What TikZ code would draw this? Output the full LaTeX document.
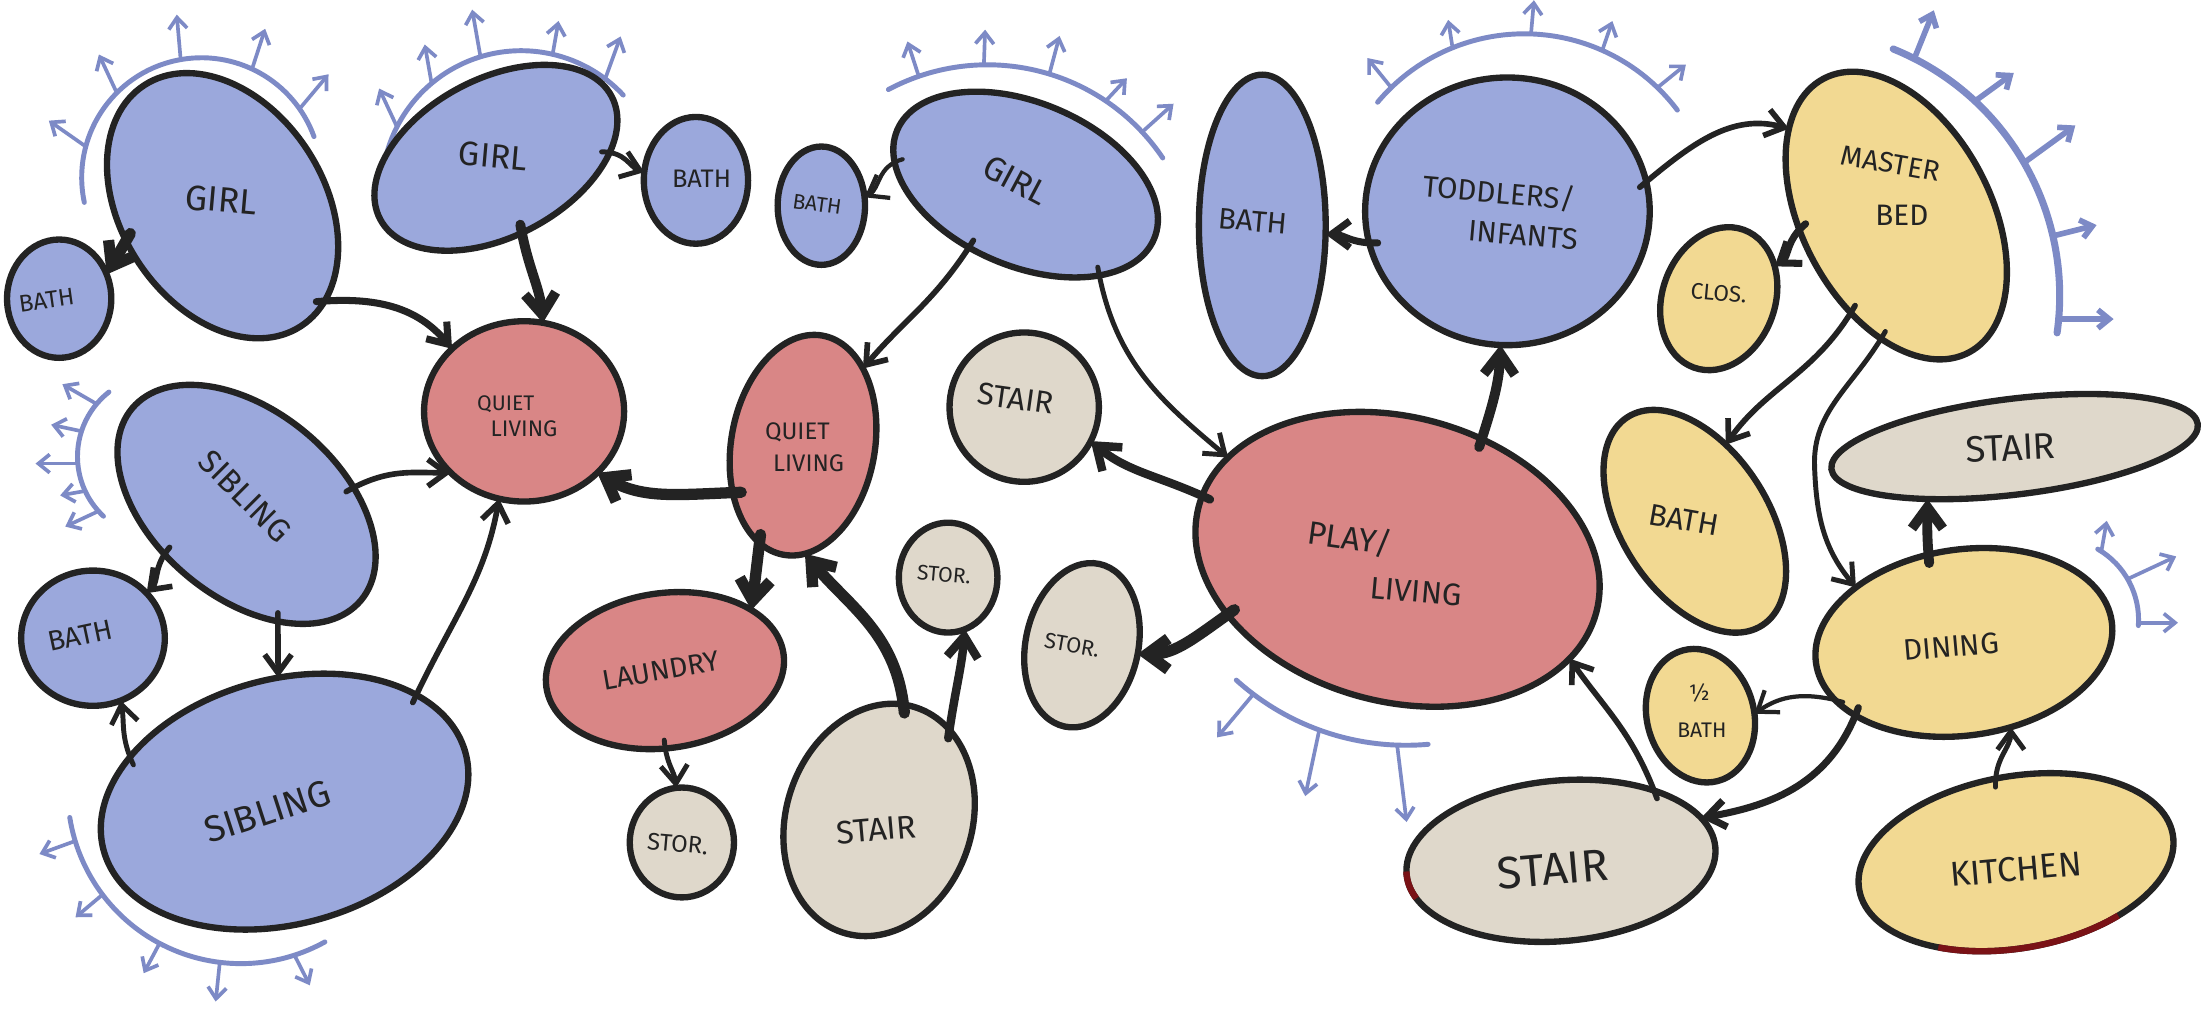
\documentclass[tikz,border=0pt]{standalone}
\usepackage{fontspec}
\setmainfont{Fira Sans}
\usetikzlibrary{shapes.geometric,arrows.meta}
\definecolor{rb}{HTML}{9BA8DC}
\definecolor{rr}{HTML}{D98686}
\definecolor{rg}{HTML}{DFD8CB}
\definecolor{ry}{HTML}{F2D992}
\definecolor{ink}{HTML}{232323}
\definecolor{vw}{HTML}{7D8AC6}
\definecolor{accent}{HTML}{7A1216}
\newcommand\fsz[1]{\fontsize{#1}{#1}\selectfont}
\begin{document}
\begin{tikzpicture}[x=1pt,y=1pt,
  room/.style={ellipse, draw=ink, line width=4.5pt, inner sep=0pt, outer sep=0pt},
  roomB/.style={room, fill=rb},
  roomR/.style={room, fill=rr},
  roomG/.style={room, fill=rg},
  roomY/.style={room, fill=ry},
  conn/.style={draw=ink, line cap=round, shorten <=-6pt, -{Straight Barb[length=13pt,width=19pt]}},
  connT/.style={draw=ink, line cap=round, shorten <=-6pt, -{Straight Barb[length=15pt,width=22pt]}},
  view/.style={draw=vw, line width=3.5pt, line cap=round},
  viewar/.style={draw=vw, line width=2.6pt, line cap=round, -{Straight Barb[length=8pt,width=13pt]}},
  lbl/.style={text=ink, inner sep=0pt}
]
\fill[white] (0,0) rectangle (1568,-718);
\useasboundingbox (0,0) rectangle (1568,-718);

% ---------- view arcs ----------
\draw[view] (143,-126) ++(192:85) arc[start angle=192,end angle=20,radius=85];
\foreach \b/\d/\l in {165/145/32,135/115/30,100/95/32,65/72/30,35/50/32}
  \draw[viewar] (143,-126) ++(\b:85) -- ++(\d:\l);
\draw[view] (370,-135) ++(170:99) arc[start angle=170,end angle=43,radius=99];
\foreach \b/\d/\l in {153/115/30,130/100/28,107/100/34,77/80/24,53/70/32}
  \draw[viewar] (370,-135) ++(\b:99) -- ++(\d:\l);
\draw[view] (701,-196) ++(118:150) arc[start angle=118,end angle=34,radius=150];
\foreach \b/\d/\l in {109/108/26,91/88/25,73/75/28,56/47/22,43/42/30}
  \draw[viewar] (701,-196) ++(\b:150) -- ++(\d:\l);
\draw[view] (1082,-160) ++(140:136) arc[start angle=140,end angle=37,radius=136];
\foreach \b/\d/\l in {134/129/27,112/99/20,88/85/24,66/71/22,46/39/26}
  \draw[viewar] (1082,-160) ++(\b:136) -- ++(\d:\l);
\draw[view, line width=5pt] (1273,-210) ++(68:189) arc[start angle=68,end angle=-8,radius=189];
\foreach \b/\d/\l in {63/68/37,47/36/34,30/36/45,13/14/32,-5/0/39}
  \draw[viewar, line width=4pt] (1273,-210) ++(\b:189) -- ++(\d:\l);
\draw[view] (1460,-440) ++(60:58) arc[start angle=60,end angle=-4,radius=58];
\foreach \b/\d/\l in {57/80/22,30/25/38,-2/0/28}
  \draw[viewar] (1460,-440) ++(\b:58) -- ++(\d:\l);
\draw[view] (113,-324) ++(128:58) arc[start angle=128,end angle=227,radius=58];
\foreach \b/\d/\l in {140/150/28,162/168/22,185/180/30,205/190/18,222/205/26}
  \draw[viewar] (113,-324) ++(\b:58) -- ++(\d:\l);
\draw[view] (171,-561) ++(189:123) arc[start angle=189,end angle=299,radius=123];
\foreach \b/\d/\l in {197/200/27,217/220/25,242/242/24,263/264/28,288/297/24}
  \draw[viewar] (171,-561) ++(\b:123) -- ++(\d:\l);
\draw[view] (998,-349) ++(228:180) arc[start angle=228,end angle=275,radius=180];
\foreach \b/\d/\l in {233/230/40,250/258/48,268/277/55}
  \draw[viewar] (998,-349) ++(\b:180) -- ++(\d:\l);

% ---------- rooms ----------
\node[roomB, minimum width=204pt, minimum height=144pt, rotate=-57] (girlA) at (158,-146) {};
\node[roomB, minimum width=74pt, minimum height=84pt] (bathA) at (42,-212) {};
\node[roomB, minimum width=186pt, minimum height=112pt, rotate=28] (girlB) at (352,-112) {};
\node[roomB, minimum width=74pt, minimum height=90pt] (bathB) at (494,-128) {};
\node[roomR, minimum width=142pt, minimum height=128pt] (quietA) at (372,-292) {};
\node[roomB, minimum width=212pt, minimum height=132pt, rotate=-40] (sibA) at (175,-358) {};
\node[roomB, minimum width=102pt, minimum height=96pt] (bathC) at (66,-453) {};
\node[roomB, minimum width=266pt, minimum height=174pt, rotate=15] (sibB) at (202,-569) {};
\node[roomR, minimum width=158pt, minimum height=102pt, rotate=80] (quietB) at (570,-316) {};
\node[roomR, minimum width=170pt, minimum height=110pt, rotate=8] (laundry) at (472,-476) {};
\node[roomG, minimum width=74pt, minimum height=78pt] (storA) at (484,-598) {};
\node[roomG, minimum width=70pt, minimum height=78pt] (storB) at (673,-410) {};
\node[roomG, minimum width=168pt, minimum height=132pt, rotate=72] (stairC) at (624,-582) {};
\node[roomG, minimum width=118pt, minimum height=80pt, rotate=78] (storC) at (768,-458) {};
\node[roomG, minimum width=106pt, minimum height=106pt] (stairD) at (727,-289) {};
\node[roomB, minimum width=198pt, minimum height=116pt, rotate=-23] (girlC) at (728,-131) {};
\node[roomB, minimum width=62pt, minimum height=84pt] (bathD) at (583,-146) {};
\node[roomB, minimum width=90pt, minimum height=214pt] (bathE) at (896,-160) {};
\node[roomB, minimum width=202pt, minimum height=190pt] (todd) at (1070,-150) {};
\node[roomR, minimum width=292pt, minimum height=202pt, rotate=-15] (play) at (992,-397) {};
\node[roomY, minimum width=220pt, minimum height=134pt, rotate=-62] (master) at (1346,-153) {};
\node[roomY, minimum width=104pt, minimum height=80pt, rotate=70] (clos) at (1220,-212) {};
\node[roomY, minimum width=176pt, minimum height=104pt, rotate=-57] (bathF) at (1203,-370) {};
\node[roomG, minimum width=262pt, minimum height=68pt, rotate=7] (stairA) at (1430,-317) {};
\node[roomY, minimum width=212pt, minimum height=132pt, rotate=8] (dining) at (1394,-456) {};
\node[roomY, minimum width=96pt, minimum height=76pt, rotate=-75] (halfbath) at (1207,-508) {};
\node[roomG, minimum width=220pt, minimum height=114pt, rotate=5] (stairB) at (1108,-611) {};
\node[roomY, minimum width=226pt, minimum height=122pt, rotate=10] (kitchen) at (1431,-612) {};

% dark red accents on two outlines
\begin{scope}[shift={(1431,-612)}, rotate=10]
  \draw[accent, line width=4.5pt] (235:113 and 61) arc[start angle=235, end angle=305, x radius=113, y radius=61];
\end{scope}
\begin{scope}[shift={(1108,-611)}, rotate=5]
  \draw[accent, line width=4.5pt] (178:110 and 57) arc[start angle=178, end angle=198, x radius=110, y radius=57];
\end{scope}

% ---------- connectors ----------
\coordinate (mdmid) at (1288,-331);
\draw[connT, line width=8pt] (girlA.257) -- (bathA.27);
\draw[conn, line width=5pt] (girlA.14) to[out=5,in=130] (quietA.139);
\draw[connT, line width=7pt] (girlB.261) to[out=-80,in=95] (quietA.78);
\draw[conn, line width=3.5pt] (girlB.335) to[out=0,in=160] (bathB.171);
\draw[conn, line width=3pt] (girlC.193) to[out=195,in=30] (bathD.11);
\draw[conn, line width=4pt] (girlC.251) to[out=238,in=50] (quietB.332);
\draw[conn, line width=3.5pt] (girlC.332) to[out=-80,in=140] (play.164);
\draw[connT, line width=6pt] (play.177) to[out=155,in=-40] (stairD.-27);
\draw[connT, line width=8pt] (play.213) to[out=215,in=0] (storC.273);
\draw[connT, line width=7pt] (play.70) to[out=72,in=-92] (todd.267);
\draw[conn, line width=5pt] (todd.193) to[out=182,in=0] (bathE.-8);
\draw[conn, line width=4pt] (todd.12) to[out=40,in=165] (master.203);
\draw[conn, line width=5pt] (master.250) to[out=220,in=35] (clos.320);
\draw[conn, line width=4pt] (master.307) to[out=240,in=55] (bathF.125);
\draw[conn, line width=3.5pt] (master.325) to[out=240,in=92] (mdmid) to[out=-88,in=130] (dining.145);
\draw[connT, line width=7pt] (dining.104) to[out=95,in=-90] (stairA.204);
\draw[conn, line width=3pt] (dining.196) to[out=165,in=35] (halfbath.77);
\draw[conn, line width=5pt] (dining.206) to[out=250,in=10] (stairB.12);
\draw[conn, line width=3.5pt] (kitchen.94) to[out=92,in=-90] (dining.291);
\draw[conn, line width=4pt] (stairB.32) to[out=110,in=-55] (play.-15);
\draw[connT, line width=8pt] (quietB.134) to[out=182,in=-30] (quietA.320);
\draw[conn, line width=4pt] (sibA.49) to[out=30,in=180] (quietA.220);
\draw[conn, line width=4pt] (sibB.24) to[out=65,in=-100] (quietA.254);
\draw[conn, line width=4pt] (sibA.251) to[out=230,in=45] (bathC.40);
\draw[conn, line width=4pt] (sibA.325) to[out=-90,in=90] (sibB.78);
\draw[conn, line width=3.5pt] (sibB.149) to[out=115,in=-80] (bathC.294);
\draw[connT, line width=8pt] (quietB.166) -- (laundry.27);
\draw[connT, line width=8pt] (stairC.6) to[out=95,in=-50] (quietB.191);
\draw[connT, line width=6pt] (stairC.340) to[out=82,in=-95] (storB.288);
\draw[conn, line width=3.5pt] (laundry.262) to[out=-85,in=95] (storA.96);

% ---------- labels ----------
\node[lbl, font=\fsz{25}, rotate=-5] (tgirlA) at (157,-142) {GIRL};
\node[lbl, font=\fsz{17}, rotate=8] (tbathA) at (33,-213) {BATH};
\node[lbl, font=\fsz{24}, rotate=-5] (tgirlB) at (350,-111) {GIRL};
\node[lbl, font=\fsz{18}] (tbathB) at (498,-127) {BATH};
\node[lbl, font=\fsz{15}] (tquietA1) at (359,-287) {QUIET};
\node[lbl, font=\fsz{16}] (tquietA2) at (372,-304) {LIVING};
\node[lbl, font=\fsz{23}, rotate=-45] (tsibA) at (174,-352) {SIBLING};
\node[lbl, font=\fsz{20}, rotate=12] (tbathC) at (57,-451) {BATH};
\node[lbl, font=\fsz{26}, rotate=18] (tsibB) at (190,-576) {SIBLING};
\node[lbl, font=\fsz{17}] (tquietB1) at (566,-307) {QUIET};
\node[lbl, font=\fsz{17}] (tquietB2) at (574,-329) {LIVING};
\node[lbl, font=\fsz{20}, rotate=10] (tlaundry) at (469,-476) {LAUNDRY};
\node[lbl, font=\fsz{17}, rotate=-5] (tstorA) at (481,-599) {STOR.};
\node[lbl, font=\fsz{15}, rotate=-5] (tstorB) at (670,-408) {STOR.};
\node[lbl, font=\fsz{23}, rotate=5] (tstairC) at (622,-589) {STAIR};
\node[lbl, font=\fsz{15.5}, rotate=-10] (tstorC) at (761,-458) {STOR.};
\node[lbl, font=\fsz{22}, rotate=-8] (tstairD) at (721,-283) {STAIR};
\node[lbl, font=\fsz{24}, rotate=-28] (tgirlC) at (721,-128) {GIRL};
\node[lbl, font=\fsz{15}, rotate=-8] (tbathD) at (580,-145) {BATH};
\node[lbl, font=\fsz{21}, rotate=-5] (tbathE) at (889,-157) {BATH};
\node[lbl, font=\fsz{21}, rotate=-5] (ttodd1) at (1064,-137) {TODDLERS/};
\node[lbl, font=\fsz{21}, rotate=-5] (ttodd2) at (1081,-167) {INFANTS};
\node[lbl, font=\fsz{23}, rotate=-8] (tplay1) at (958,-382) {PLAY/};
\node[lbl, font=\fsz{22}, rotate=-5] (tplay2) at (1005,-420) {LIVING};
\node[lbl, font=\fsz{20}, rotate=-10] (tmaster1) at (1342,-116) {MASTER};
\node[lbl, font=\fsz{21}] (tmaster2) at (1350,-153) {BED};
\node[lbl, font=\fsz{16}, rotate=-5] (tclos) at (1220,-208) {CLOS.};
\node[lbl, font=\fsz{21.5}, rotate=-10] (tbathF) at (1195,-369) {BATH};
\node[lbl, font=\fsz{26}, rotate=3] (tstairA) at (1427,-318) {STAIR};
\node[lbl, font=\fsz{21}, rotate=5] (tdining) at (1385,-459) {DINING};
\node[lbl, font=\fsz{16}] (thalf1) at (1206,-492) {½};
\node[lbl, font=\fsz{15}] (thalf2) at (1208,-518) {BATH};
\node[lbl, font=\fsz{32}, rotate=5] (tstairB) at (1102,-617) {STAIR};
\node[lbl, font=\fsz{24.5}, rotate=5] (tkitchen) at (1431,-617) {KITCHEN};
\end{tikzpicture}
\end{document}
